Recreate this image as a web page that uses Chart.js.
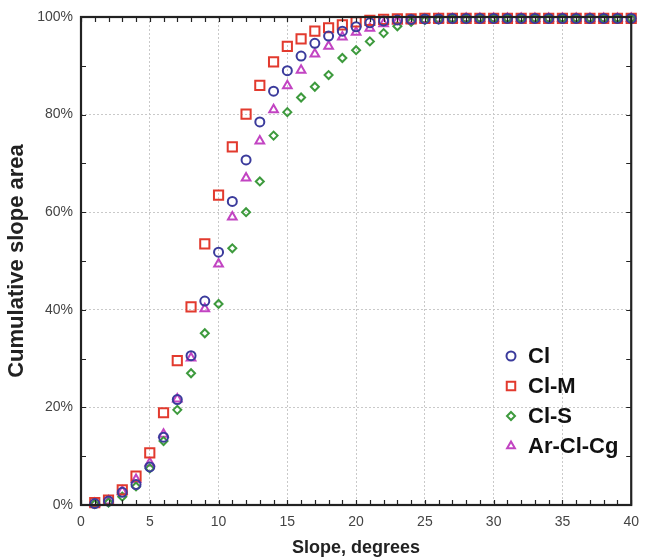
<!DOCTYPE html>
<html>
<head>
<meta charset="utf-8">
<script src="https://cdn.jsdelivr.net/npm/chart.js@4.4.0/dist/chart.umd.min.js"></script>
<style>
  html, body { margin: 0; padding: 0; background: #fff; }
</style>
</head>
<body>
<canvas id="slopeChart" width="648" height="560"></canvas>
<script>
// slope classes, degrees
const slopes = [1, 2, 3, 4, 5, 6, 7, 8, 9, 10, 11, 12, 13, 14, 15, 16, 17, 18, 19, 20,
  21, 22, 23, 24, 25, 26, 27, 28, 29, 30, 31, 32, 33, 34, 35, 36, 37, 38, 39, 40];

// cumulative slope area, %
const cl = [0.3, 0.8, 2.6, 4.2, 7.8, 13.9, 21.6, 30.6, 41.8, 51.8, 62.2, 70.7, 78.5, 84.8, 89.0, 92.0, 94.6, 96.1, 97.1, 98.0,
  98.8, 99.2, 99.4, 99.5, 99.6, 99.6, 99.7, 99.7, 99.7, 99.7, 99.7, 99.7, 99.7, 99.7, 99.7, 99.7, 99.7, 99.7, 99.7, 99.7];
const clM = [0.5, 1.0, 3.1, 5.9, 10.7, 18.9, 29.6, 40.6, 53.5, 63.5, 73.4, 80.1, 86.0, 90.8, 94.0, 95.5, 97.1, 97.8, 98.4, 99.0,
  99.3, 99.5, 99.6, 99.6, 99.7, 99.7, 99.7, 99.7, 99.7, 99.7, 99.7, 99.7, 99.7, 99.7, 99.7, 99.7, 99.7, 99.7, 99.7, 99.7];
const clS = [0.2, 0.5, 1.7, 3.8, 7.5, 13.1, 19.5, 27.0, 35.2, 41.2, 52.6, 60.0, 66.3, 75.7, 80.5, 83.5, 85.7, 88.1, 91.6, 93.2,
  95.0, 96.7, 98.1, 99.0, 99.4, 99.5, 99.6, 99.6, 99.7, 99.7, 99.7, 99.7, 99.7, 99.7, 99.7, 99.7, 99.7, 99.7, 99.7, 99.7];
const arClCg = [0.3, 0.8, 2.8, 5.2, 8.6, 14.5, 21.7, 30.1, 40.2, 49.4, 59.0, 67.0, 74.6, 81.0, 85.9, 89.1, 92.4, 94.0, 95.9, 96.9,
  97.7, 98.6, 99.2, 99.4, 99.5, 99.6, 99.6, 99.7, 99.7, 99.7, 99.7, 99.7, 99.7, 99.7, 99.7, 99.7, 99.7, 99.7, 99.7, 99.7];

const seriesLabels = ['Cl', 'Cl-M', 'Cl-S', 'Ar-Cl-Cg'];
const xTickLabels = [0, 5, 10, 15, 20, 25, 30, 35, 40];
const yTickLabels = ['0%', '20%', '40%', '60%', '80%', '100%'];

const FONT = '"Liberation Sans", Arial, sans-serif';

function pts(vals) {
  return slopes.map((s, i) => ({ x: s, y: vals[i] }));
}

function makeSet(label, vals, color, style, radius) {
  return {
    label: label,
    data: pts(vals),
    pointStyle: style,
    pointRadius: radius,
    pointHoverRadius: radius,
    pointBorderWidth: 2,
    borderColor: color,
    backgroundColor: 'rgba(0,0,0,0)',
    showLine: false,
    clip: false
  };
}

// own marker drawing for the legend
function marker(ctx, style, x, y, r) {
  ctx.beginPath();
  if (style === 'circle') {
    ctx.arc(x, y, r, 0, Math.PI * 2);
  } else if (style === 'rect') {
    const s = Math.SQRT1_2 * r;
    ctx.rect(x - s, y - s, 2 * s, 2 * s);
  } else if (style === 'rectRot') {
    ctx.moveTo(x, y - r); ctx.lineTo(x + r, y); ctx.lineTo(x, y + r); ctx.lineTo(x - r, y);
    ctx.closePath();
  } else if (style === 'triangle') {
    ctx.moveTo(x, y - r);
    ctx.lineTo(x + r * 0.866, y + r * 0.5);
    ctx.lineTo(x - r * 0.866, y + r * 0.5);
    ctx.closePath();
  }
  ctx.stroke();
}

const framePlugin = {
  id: 'frame',
  afterDatasetsDraw(chart) {
    const ctx = chart.ctx;
    const a = chart.chartArea;
    const xs = chart.scales.x, ys = chart.scales.y;
    ctx.save();
    ctx.strokeStyle = '#222';
    ctx.lineWidth = 1.2;
    ctx.beginPath();
    for (let v = 0; v <= 40; v++) {
      const px = Math.round(xs.getPixelForValue(v)) + 0.5;
      ctx.moveTo(px, a.bottom); ctx.lineTo(px, a.bottom - 5);
      ctx.moveTo(px, a.top); ctx.lineTo(px, a.top + 5);
    }
    for (let v = 0; v <= 100; v += 10) {
      const py = Math.round(ys.getPixelForValue(v)) + 0.5;
      ctx.moveTo(a.left, py); ctx.lineTo(a.left + 5, py);
      ctx.moveTo(a.right, py); ctx.lineTo(a.right - 5, py);
    }
    ctx.stroke();
    ctx.lineWidth = 2.2;
    ctx.strokeRect(a.left, a.top, a.right - a.left, a.bottom - a.top);
    ctx.restore();
  },
  afterDraw(chart) {
    const ctx = chart.ctx;
    ctx.save();
    ctx.font = 'bold 22px ' + FONT;
    ctx.textBaseline = 'middle';
    ctx.fillStyle = '#111';
    chart.data.datasets.forEach((ds, i) => {
      const y = 356 + i * 30;
      ctx.strokeStyle = ds.borderColor;
      ctx.lineWidth = 2;
      marker(ctx, ds.pointStyle, 511, y, ds.pointStyle === 'rect' ? 6 : (ds.pointStyle === 'rectRot' ? 4 : 4.5));
      ctx.fillText(ds.label, 528, y + 1);
    });
    ctx.restore();
  }
};

const gridColor = (c) => {
  if (!c.tick) return 'rgba(0,0,0,0)';
  const v = c.tick.value;
  const major = c.scale.axis === 'x' ? xTickLabels.includes(v) : v % 20 === 0;
  return major ? '#c9c9c9' : 'rgba(0,0,0,0)';
};

new Chart(document.getElementById('slopeChart'), {
  type: 'scatter',
  data: {
    datasets: [
      makeSet(seriesLabels[0], cl, '#3b3b9c', 'circle', 4.5),
      makeSet(seriesLabels[1], clM, '#e23a2e', 'rect', 6.5),
      makeSet(seriesLabels[2], clS, '#3d9a3d', 'rectRot', 4),
      makeSet(seriesLabels[3], arClCg, '#c244c2', 'triangle', 5)
    ]
  },
  options: {
    responsive: false,
    animation: false,
    layout: { padding: { top: 17, right: 8, left: 0, bottom: 0 } },
    plugins: {
      legend: { display: false },
      tooltip: { enabled: false }
    },
    scales: {
      x: {
        type: 'linear',
        min: 0, max: 40,
        afterFit(scale) { scale.height = 55; },
        grid: { color: gridColor, lineWidth: 1, drawTicks: false },
        border: { display: false, dash: [2, 2] },
        ticks: {
          stepSize: 1, autoSkip: false, maxRotation: 0, padding: 9,
          color: '#444', font: { family: FONT, size: 14 },
          callback: (v) => xTickLabels.includes(v) ? String(v) : ''
        },
        title: {
          display: true, text: 'Slope, degrees', color: '#222',
          font: { family: FONT, size: 18, weight: 'bold' },
          padding: { top: 0, bottom: 1 }
        }
      },
      y: {
        type: 'linear',
        min: 0, max: 100,
        afterFit(scale) { scale.width = 81; },
        grid: { color: gridColor, lineWidth: 1, drawTicks: false },
        border: { display: false, dash: [2, 2] },
        ticks: {
          stepSize: 10, autoSkip: false, padding: 8,
          color: '#444', font: { family: FONT, size: 14 },
          callback: (v) => v % 20 === 0 ? yTickLabels[v / 20] : ''
        },
        title: {
          display: true, text: 'Cumulative slope area', color: '#222',
          font: { family: FONT, size: 22, weight: 'bold' },
          padding: { top: 4, bottom: 0 }
        }
      }
    }
  },
  plugins: [framePlugin]
});
</script>
</body>
</html>
